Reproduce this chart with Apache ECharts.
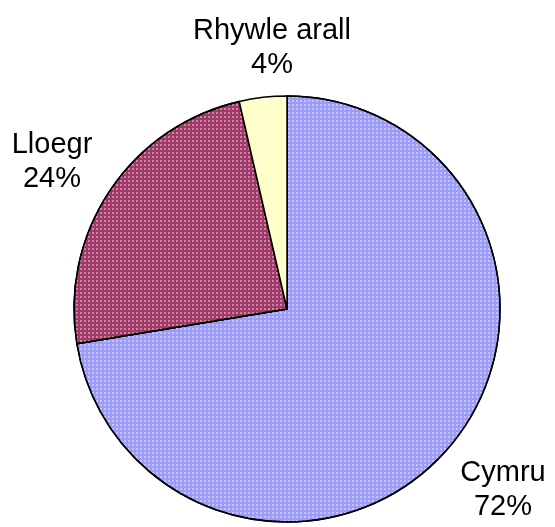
<!DOCTYPE html>
<html lang="cy">
<head>
    <meta charset="utf-8"/>
    <title>Pie</title>
    <script src="https://cdn.jsdelivr.net/npm/echarts@6/dist/echarts.min.js"></script>
    <style>
        html, body { margin: 0; padding: 0; background: #fff; }
        #main { width: 555px; height: 527px; }
    </style>
</head>
<body>
<div id="main"></div>
<script>
    // data
    var names = ['Cymru', 'Lloegr', 'Rhywle arall'];
    var values = [72.4, 24.0, 3.6];
    var colors = ['#9c9cf8', '#a03868', '#ffffcc'];
    // where each label sits (label centre)
    var labelPos = [[503, 490], [52, 162], [272, 48]];

    var dots = {
        symbol: 'rect',
        symbolSize: 1,
        dashArrayX: [2, 2],
        dashArrayY: [2, 2],
        color: 'rgba(255,255,255,0.4)'
    };

    var chart = echarts.init(document.getElementById('main'));
    var option = {
        animation: false,
        series: [
            {
                type: 'pie',
                center: [287, 309],
                radius: 213,
                startAngle: 90,
                clockwise: true,
                percentPrecision: 0,
                avoidLabelOverlap: false,
                data: names.map(function (n, i) {
                    return {
                        name: n,
                        value: values[i],
                        itemStyle: {
                            color: colors[i],
                            decal: i < 2 ? dots : null
                        }
                    };
                }),
                itemStyle: {
                    borderColor: '#000',
                    borderWidth: 1.5
                },
                label: {
                    show: true,
                    position: 'outside',
                    formatter: '{b}\n{d}%',
                    fontFamily: 'Liberation Sans, Arial, sans-serif',
                    fontSize: 29,
                    lineHeight: 34,
                    color: '#000',
                    align: 'center'
                },
                labelLine: { show: false },
                labelLayout: function (p) {
                    return {
                        x: labelPos[p.dataIndex][0],
                        y: labelPos[p.dataIndex][1],
                        align: 'center',
                        verticalAlign: 'middle'
                    };
                },
                emphasis: { disabled: true }
            }
        ]
    };
    chart.setOption(option);
</script>
</body>
</html>
